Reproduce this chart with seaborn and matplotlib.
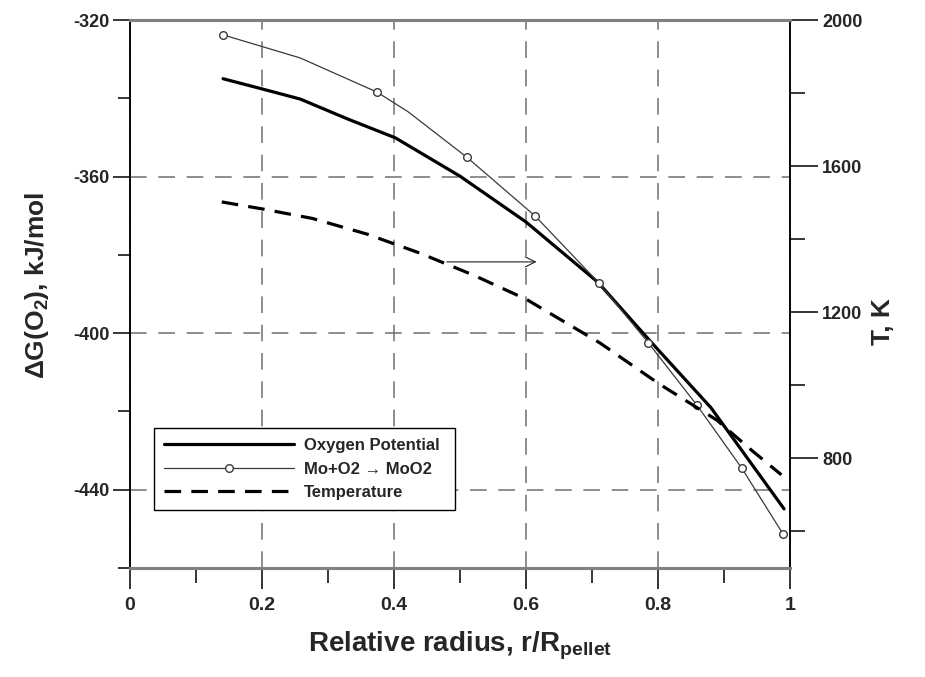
import numpy as np
import matplotlib
matplotlib.use('Agg')
import matplotlib.pyplot as plt
from matplotlib.lines import Line2D
import seaborn as sns

# ── data ─────────────────────────────────────────────────────────────
# Oxygen potential, kJ/mol (left axis)
op_x = [0.141, 0.200, 0.258, 0.330, 0.402, 0.500, 0.600, 0.709, 0.788, 0.880, 0.991]
op_y = [-335.0, -337.6, -340.2, -345.3, -350.1, -359.9, -371.6, -387.0, -402.0, -419.0, -444.9]

# Mo + O2 -> MoO2 equilibrium, kJ/mol (left axis)
mo_x = [0.141, 0.258, 0.374, 0.421, 0.510, 0.614, 0.710, 0.785, 0.859, 0.927, 0.989]
mo_y = [-323.8, -329.7, -338.4, -343.4, -355.0, -370.1, -387.1, -402.4, -418.4, -434.5, -451.2]
mo_marked = [0, 2, 4, 5, 6, 7, 8, 9, 10]

# Temperature, K (right axis)
t_x = [0.139, 0.200, 0.276, 0.359, 0.439, 0.520, 0.601, 0.712, 0.800, 0.889, 0.942, 0.987]
t_y = [1502, 1483, 1457, 1414, 1362, 1302, 1235, 1116, 1006, 905, 822, 755]

x_ticks = [0, 0.2, 0.4, 0.6, 0.8, 1.0]
x_ticklabels = ['0', '0.2', '0.4', '0.6', '0.8', '1']
x_minor = [0.1, 0.3, 0.5, 0.7, 0.9]
g_ticks = [-440, -400, -360, -320]
g_minor = [-460, -420, -380, -340]
t_ticks = [800, 1200, 1600, 2000]
t_minor = [600, 1000, 1400, 1800]

legend_labels = ['Oxygen Potential', 'Mo+O2 \u2192 MoO2', 'Temperature']

# arrow pointing to the temperature axis
arrow_x = [0.48, 0.616]
arrow_y = -381.8

# ── style ────────────────────────────────────────────────────────────
sns.set_theme(style='white')
plt.rcParams['font.family'] = ['Liberation Sans', 'DejaVu Sans']
plt.rcParams['font.weight'] = 'bold'
plt.rcParams['axes.labelweight'] = 'bold'
plt.rcParams['axes.unicode_minus'] = False
plt.rcParams['mathtext.fontset'] = 'custom'
plt.rcParams['mathtext.rm'] = 'Liberation Sans:bold'
plt.rcParams['mathtext.it'] = 'Liberation Sans:bold'
plt.rcParams['mathtext.bf'] = 'Liberation Sans:bold'

OP_STYLE = dict(color='black', lw=2.3)
MO_STYLE = dict(color='#3a3a3a', lw=0.9, marker='o', markersize=5.5,
                markerfacecolor='white', markeredgecolor='#3a3a3a',
                markeredgewidth=1.0)
T_STYLE = dict(color='black', lw=2.3, linestyle=(0, (5.2, 3.2)))

fig = plt.figure(figsize=(9.25, 6.77), dpi=100, facecolor='white')
ax = fig.add_axes([0.14054, 0.16100, 0.71351, 0.80945])
ax2 = ax.twinx()

sns.lineplot(x=op_x, y=op_y, ax=ax, sort=False, estimator=None,
             legend=False, **OP_STYLE)
sns.lineplot(x=mo_x, y=mo_y, ax=ax, sort=False, estimator=None,
             markevery=mo_marked, legend=False, **MO_STYLE)
sns.lineplot(x=t_x, y=t_y, ax=ax2, sort=False, estimator=None,
             legend=False, **T_STYLE)

ax.annotate('', xy=(arrow_x[1], arrow_y), xytext=(arrow_x[0], arrow_y),
            arrowprops=dict(arrowstyle='->', lw=0.8, color='#222222',
                            mutation_scale=18, shrinkA=0, shrinkB=0))

# axes
ax.set_xlim(0, 1)
ax.set_ylim(-460, -320)
ax2.set_ylim(500, 2000)

ax.set_xticks(x_ticks)
ax.set_xticklabels(x_ticklabels)
ax.set_xticks(x_minor, minor=True)
ax.set_yticks(g_ticks)
ax.set_yticks(g_minor, minor=True)
ax2.set_yticks(t_ticks)
ax2.set_yticks(t_minor, minor=True)

ax.grid(True, which='major', color='#7a7a7a', lw=1.2, linestyle=(0, (10, 7)))

ax.tick_params(axis='x', which='major', direction='out', length=15, width=1.1,
               pad=6, labelsize=14, color='black', bottom=True)
ax.tick_params(axis='x', which='minor', direction='out', length=11, width=1.1,
               color='black', bottom=True)
ax.tick_params(axis='y', which='major', direction='out', length=12, width=1.1,
               pad=3, labelsize=13, color='black', left=True)
ax.tick_params(axis='y', which='minor', direction='out', length=8.5, width=1.1,
               color='black', left=True)
ax2.tick_params(axis='y', which='major', direction='out', length=20, width=1.1,
                pad=3, labelsize=13, color='black', right=True)
ax2.tick_params(axis='y', which='minor', direction='out', length=11, width=1.1,
                color='black', right=True)

for a in (ax, ax2):
    for side in ('top', 'bottom'):
        a.spines[side].set_color('#808080')
        a.spines[side].set_linewidth(2.2)
    for side in ('left', 'right'):
        a.spines[side].set_color('black')
        a.spines[side].set_linewidth(1.1)

ax.set_xlabel('Relative radius, r/R$_{\\mathrm{pellet}}$', fontsize=20, labelpad=11)
ax.set_ylabel('\u0394G(O$_2$), kJ/mol', fontsize=19, labelpad=16)
ax.yaxis.label.set_y(0.516)
ax2.set_ylabel('T, K', fontsize=19, labelpad=6)
ax2.yaxis.label.set_y(0.45)

# legend with proxy handles (one marker on the Mo line)
handles = [Line2D([], [], **OP_STYLE),
           Line2D([], [], **MO_STYLE),
           Line2D([], [], **T_STYLE)]
leg = ax2.legend(handles, legend_labels, loc='lower left',
                 bbox_to_anchor=(0.036, 0.106, 0.456, 0.17), mode='expand',
                 borderaxespad=0, frameon=True, fancybox=False, framealpha=1,
                 edgecolor='black', handlelength=7.8, numpoints=1,
                 borderpad=0.6, labelspacing=0.5, handletextpad=0.6,
                 prop={'weight': 'bold', 'size': 12})
leg.get_frame().set_linewidth(1.0)

fig.savefig('out.png', dpi=100, facecolor='white')
